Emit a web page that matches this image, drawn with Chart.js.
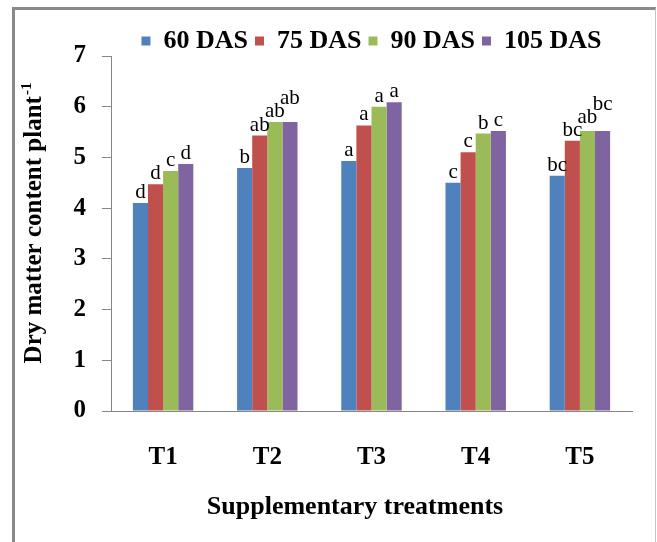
<!DOCTYPE html>
<html>
<head>
<meta charset="utf-8">
<script src="https://cdn.jsdelivr.net/npm/chart.js@4.4.1/dist/chart.umd.min.js"></script>
<style>
   html, body { margin: 0; padding: 0; background: #fff; }
   #wrap { position: relative; width: 657px; height: 542px; overflow: hidden; }
   #frame {
      position: absolute; left: 12px; top: 7px; width: 640px; height: 560px;
      border-left: 3px solid #8a8a8a; border-top: 3px solid #8a8a8a; border-right: 1px solid #c4c4c4;
      pointer-events: none;
   }
</style>
</head>
<body>
<div id="wrap">
   <canvas id="chart" width="657" height="542"></canvas>
   <div id="frame"></div>
</div>
<script>
// chart data
const treatments = ["T1", "T2", "T3", "T4", "T5"];
const seriesNames = ["60 DAS", "75 DAS", "90 DAS", "105 DAS"];
const das60 = [4.10, 4.79, 4.93, 4.50, 4.64];
const das75 = [4.47, 5.43, 5.63, 5.10, 5.33];
const das90 = [4.73, 5.70, 6.00, 5.47, 5.52];
const das105 = [4.87, 5.70, 6.09, 5.52, 5.52];
const letters60 = ["d", "b", "a", "c", "bc"];
const letters75 = ["d", "ab", "a", "c", "bc"];
const letters90 = ["c", "ab", "a", "b", "ab"];
const letters105 = ["d", "ab", "a", "c", "bc"];
const yTicks = [0, 1, 2, 3, 4, 5, 6, 7];

const colors = ["#4f81bd", "#c0504d", "#9bbb59", "#8064a2"];
const allValues = [das60, das75, das90, das105];
const allLetters = [letters60, letters75, letters90, letters105];
const serif = "'Liberation Serif', 'Times New Roman', serif";
const axisGray = "#868686";

// letters of significance above each bar
const letterPlugin = {
   id: "letters",
   afterDatasetsDraw(chart) {
      const ctx = chart.ctx;
      ctx.save();
      ctx.font = "21px " + serif;
      ctx.fillStyle = "#000";
      ctx.textAlign = "center";
      ctx.textBaseline = "alphabetic";
      for (let i = 0; i < treatments.length; i++) {
         let prev = null;
         for (let d = 0; d < allLetters.length; d++) {
            const bar = chart.getDatasetMeta(d).data[i];
            const text = allLetters[d][i];
            const w = ctx.measureText(text).width;
            let y = bar.y - 5;
            // raise a label if it would run into the one on its left
            if (prev && bar.x - w / 2 < prev.right - 1 && Math.abs(prev.y - y) < 14) {
               y = Math.min(y, prev.y - 13);
            }
            ctx.fillText(text, bar.x, y);
            prev = { right: bar.x + w / 2, y: y };
         }
      }
      ctx.restore();
   },
};

// centre the legend over the plot area instead of the whole canvas
const legendShift = {
   id: "legendShift",
   afterLayout(chart) {
      const area = chart.chartArea;
      const lg = chart.legend;
      const dx = (area.left + area.right) / 2 - (lg.left + lg.right) / 2;
      lg.left += dx;
      lg.right += dx;
   },
};

// axis titles (y title has a superscript)
const titlePlugin = {
   id: "titles",
   afterDraw(chart) {
      const ctx = chart.ctx;
      const area = chart.chartArea;
      ctx.save();
      ctx.fillStyle = "#000";
      ctx.textBaseline = "middle";

      ctx.font = "bold 26px " + serif;
      ctx.textAlign = "center";
      ctx.fillText("Supplementary treatments", 355, 507);

      const main = "Dry matter content plant";
      const sup = "-1";
      ctx.translate(35, (area.top + area.bottom) / 2 - 10);
      ctx.rotate(-Math.PI / 2);
      ctx.font = "bold 25px " + serif;
      const wMain = ctx.measureText(main).width;
      ctx.font = "bold 15px " + serif;
      const wSup = ctx.measureText(sup).width;
      const start = -(wMain + wSup) / 2;
      ctx.textAlign = "left";
      ctx.font = "bold 25px " + serif;
      ctx.fillText(main, start, 0);
      ctx.font = "bold 15px " + serif;
      ctx.fillText(sup, start + wMain + 1, -8);
      ctx.restore();
   },
};

const ctx = document.getElementById("chart").getContext("2d");
new Chart(ctx, {
   type: "bar",
   data: {
      labels: treatments,
      datasets: seriesNames.map((name, k) => ({
         label: name,
         data: allValues[k],
         backgroundColor: colors[k],
         borderWidth: 0,
         barPercentage: 1,
         categoryPercentage: 0.58,
      })),
   },
   options: {
      responsive: false,
      animation: false,
      layout: { padding: { left: 0, right: 25, top: 21, bottom: 0 } },
      plugins: {
         legend: {
            position: "top",
            maxHeight: 35,
            labels: {
               boxWidth: 9,
               boxHeight: 9,
               padding: 7,
               color: "#000",
               font: { family: serif, size: 26, weight: "bold" },
            },
         },
         tooltip: { enabled: false },
      },
      scales: {
         x: {
            grid: { display: false, drawTicks: false },
            border: { color: axisGray, width: 1 },
            ticks: {
               color: "#000",
               padding: 32,
               font: { family: serif, size: 25, weight: "bold" },
            },
            afterFit(scale) {
               scale.height = 131;
            },
         },
         y: {
            min: 0,
            max: 7,
            afterBuildTicks(scale) {
               scale.ticks = yTicks.map((v) => ({ value: v }));
            },
            grid: { drawOnChartArea: false, drawTicks: true, tickLength: 9, color: axisGray },
            border: { color: axisGray, width: 1 },
            ticks: {
               color: "#000",
               padding: 16,
               font: { family: serif, size: 25, weight: "bold" },
            },
            afterFit(scale) {
               scale.width = 111;
            },
         },
      },
   },
   plugins: [letterPlugin, legendShift, titlePlugin],
});
</script>
</body>
</html>
